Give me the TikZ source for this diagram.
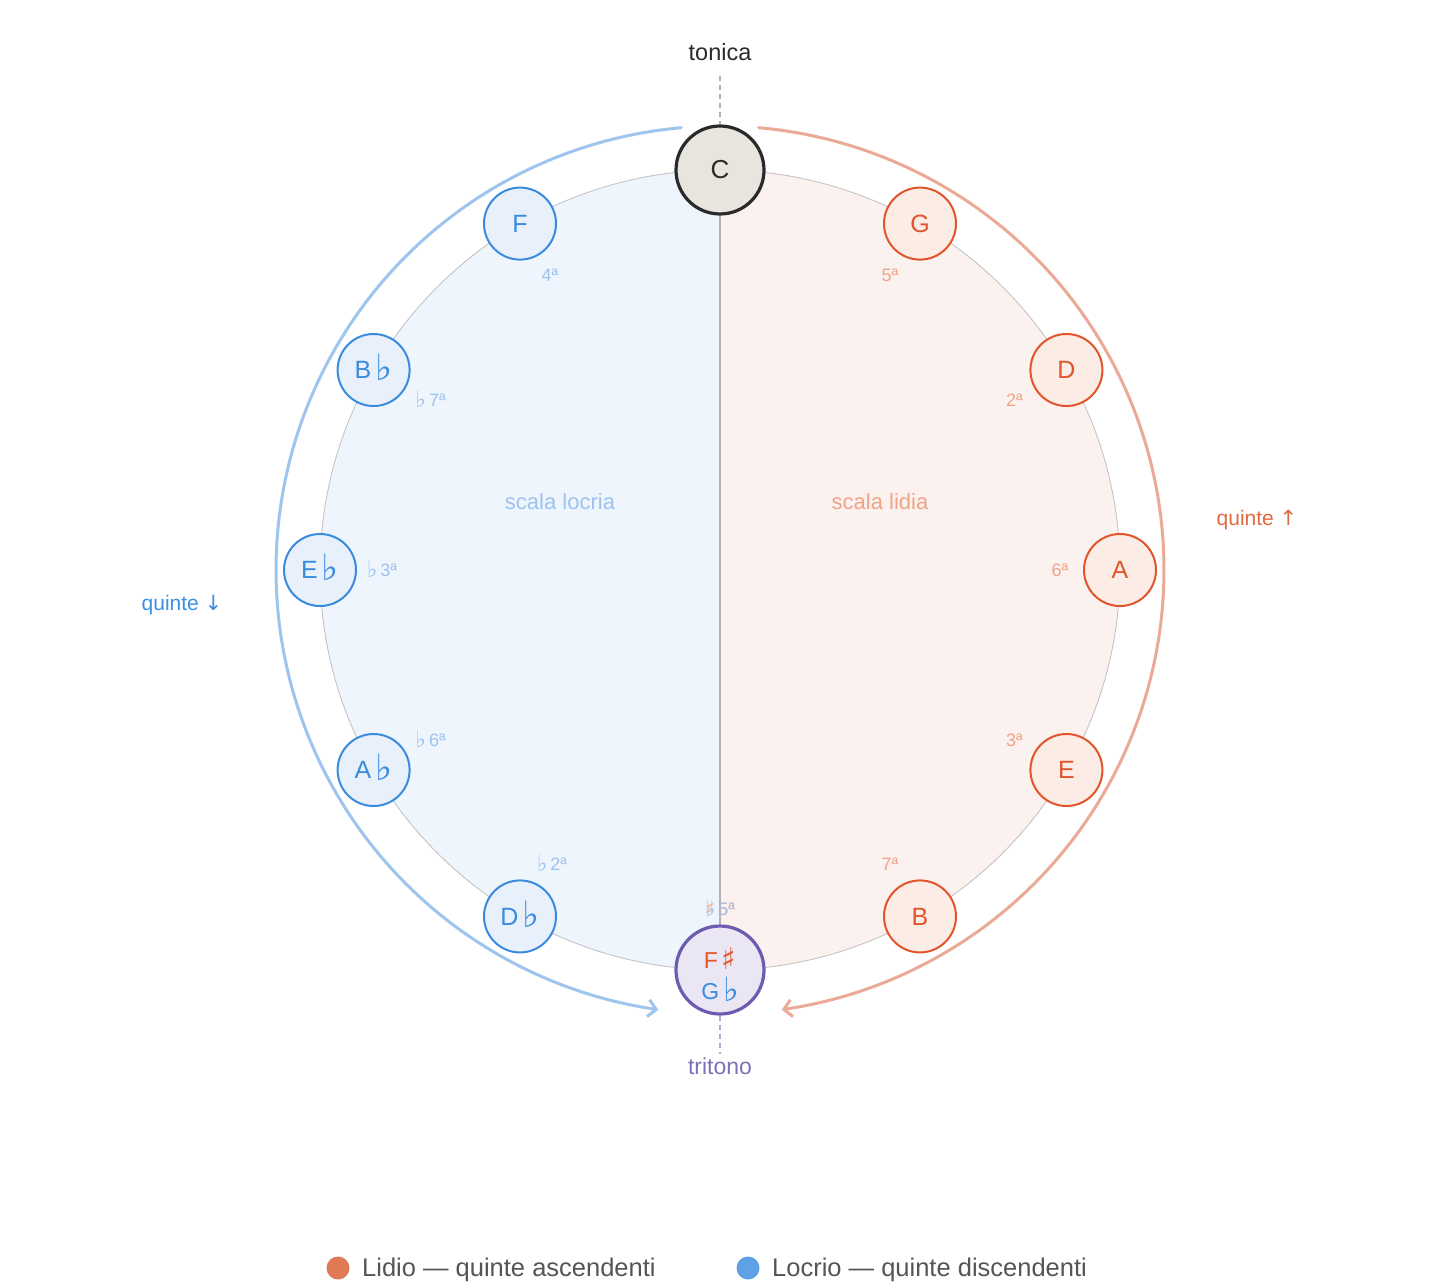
\documentclass[tikz,border=0pt]{standalone}
\usepackage{fontspec}
\setmainfont{Liberation Sans}
\newfontfamily\sym{DejaVu Sans}
\usetikzlibrary{arrows.meta}
\newcommand\myflat{\raisebox{-2pt}[0pt][0pt]{\sym\scalebox{1.45}{♭}}}
\newcommand\mysharp{\raisebox{-1pt}[0pt][0pt]{\sym\scalebox{1.3}{♯}}}
\newcommand\smflat{\raisebox{-1pt}[0pt][0pt]{\sym\scalebox{1.25}{♭}}}
\newcommand\smsharp{\raisebox{-1pt}[0pt][0pt]{\sym\scalebox{1.2}{♯}}}
\definecolor{redS}{HTML}{E0552B}
\definecolor{redF}{HTML}{FCECE6}
\definecolor{blueS}{HTML}{3A8BDD}
\definecolor{blueF}{HTML}{E8F1FB}
\definecolor{arcB}{HTML}{9DC5EE}
\definecolor{arcR}{HTML}{EBAA95}
\definecolor{halfB}{HTML}{EEF5FD}
\definecolor{halfR}{HTML}{FBF1EE}
\definecolor{degR}{HTML}{EFA488}
\definecolor{degB}{HTML}{9DC3EE}
\definecolor{qR}{HTML}{E06A40}
\definecolor{qB}{HTML}{3D8FE0}
\definecolor{purS}{HTML}{6C5BB0}
\definecolor{purT}{HTML}{8070B8}
\definecolor{purF}{HTML}{EAE6F3}
\definecolor{tonF}{HTML}{E8E5DF}
\definecolor{tonS}{HTML}{2A2A2A}
\definecolor{legR}{HTML}{E07A55}
\definecolor{legB}{HTML}{5FA0E6}
\definecolor{legT}{HTML}{555555}
\tikzset{
  note/.style={circle, minimum size=72pt, inner sep=0pt, line width=2pt, font=\fontsize{25}{25}\selectfont},
  lnote/.style={note, draw=redS, fill=redF, text=redS},
  bnote/.style={note, draw=blueS, fill=blueF, text=blueS},
  big/.style={circle, minimum size=88pt, inner sep=0pt, line width=3.2pt, font=\fontsize{26}{26}\selectfont},
  rdeg/.style={text=degR, font=\fontsize{18}{18}\selectfont, inner sep=0pt},
  bdeg/.style={text=degB, font=\fontsize{18}{18}\selectfont, inner sep=0pt},
  lab/.style={font=\fontsize{22}{22}\selectfont, inner sep=0pt},
  arcline/.style={line width=3pt, line cap=round},
}
\begin{document}
\begin{tikzpicture}[x=1pt,y=-1pt]
\useasboundingbox[fill=white] (0,0) rectangle (1440,1286);
% half discs
\fill[halfB] (720,170) -- plot[domain=0:180,samples=120] ({720-400*sin(\x)},{570-400*cos(\x)}) -- cycle;
\fill[halfR] (720,170) -- plot[domain=0:180,samples=120] ({720+400*sin(\x)},{570-400*cos(\x)}) -- cycle;
\draw[line width=0.8pt, draw=black!25] (720,570) circle[radius=400];
% nodes
\node[big, draw=tonS, fill=tonF, text=tonS] (C) at (720,170) {C};
\node[big, draw=purS, fill=purF] (Fs) at (720,970) {};
\node[font=\fontsize{23}{23}\selectfont, text=redS, inner sep=0pt, anchor=base] (FsT) at (720,968) {F\,\mysharp};
\node[font=\fontsize{23}{23}\selectfont, text=blueS, inner sep=0pt, anchor=base] (GbT) at (720,999) {G\,\myflat};
\draw[line width=1.3pt, draw=black!30] (C.south) -- (Fs.north);
\node[lnote] (G) at ({720+400*sin(30)},{570-400*cos(30)}) {G};
\node[lnote] (D) at ({720+400*sin(60)},{570-400*cos(60)}) {D};
\node[lnote] (A) at ({720+400*sin(90)},{570-400*cos(90)}) {A};
\node[lnote] (E) at ({720+400*sin(120)},{570-400*cos(120)}) {E};
\node[lnote] (B) at ({720+400*sin(150)},{570-400*cos(150)}) {B};
\node[bnote] (F) at ({720-400*sin(30)},{570-400*cos(30)}) {F};
\node[bnote] (Bb) at ({720-400*sin(60)},{570-400*cos(60)}) {B\,\myflat};
\node[bnote] (Eb) at ({720-400*sin(90)},{570-400*cos(90)}) {E\,\myflat};
\node[bnote] (Ab) at ({720-400*sin(120)},{570-400*cos(120)}) {A\,\myflat};
\node[bnote] (Db) at ({720-400*sin(150)},{570-400*cos(150)}) {D\,\myflat};
% degree labels
\node[rdeg] (dG) at ({720+340*sin(30)},{570-340*cos(30)}) {5ª};
\node[rdeg] (dD) at ({720+340*sin(60)},{570-340*cos(60)}) {2ª};
\node[rdeg] (dA) at ({720+340*sin(90)},{570-340*cos(90)}) {6ª};
\node[rdeg] (dE) at ({720+340*sin(120)},{570-340*cos(120)}) {3ª};
\node[rdeg] (dB) at ({720+340*sin(150)},{570-340*cos(150)}) {7ª};
\node[bdeg] (dF) at ({720-340*sin(30)},{570-340*cos(30)}) {4ª};
\node[bdeg] (dBb) at ({720-340*sin(60)+5},{570-340*cos(60)}) {\smflat\,7ª};
\node[bdeg] (dEb) at ({720-340*sin(90)+2},{570-340*cos(90)}) {\smflat\,3ª};
\node[bdeg] (dAb) at ({720-340*sin(120)+5},{570-340*cos(120)}) {\smflat\,6ª};
\node[bdeg] (dDb) at ({720-340*sin(150)+2},{570-340*cos(150)}) {\smflat\,2ª};
\node[rdeg, opacity=0.8] (dFs) at (720,909) {\smsharp\,5ª};
\node[bdeg, opacity=0.8] (dGb) at (720,909) {\smflat\,5ª};
% arcs
\coordinate (rS) at ({720+444*sin(5)},{570-444*cos(5)});
\coordinate (bS) at ({720-444*sin(5)},{570-444*cos(5)});
\draw[arcline, draw=arcR, -{Straight Barb[length=8pt,width=17pt,line width=3pt]}] (rS) -- plot[domain=5:172,samples=150] ({720+444*sin(\x)},{570-444*cos(\x)});
\draw[arcline, draw=arcB, -{Straight Barb[length=8pt,width=17pt,line width=3pt]}] (bS) -- plot[domain=5:172,samples=150] ({720-444*sin(\x)},{570-444*cos(\x)});
% dashed guides
\coordinate (tTop) at (720,76);
\coordinate (tBot) at (720,1054);
\draw[line width=1.3pt, draw=black!30, dash pattern=on 5pt off 4pt] (tTop) -- (C.north);
\draw[line width=1.3pt, draw=purT!60, dash pattern=on 5pt off 4pt] (Fs.south) -- (tBot);
% labels
\node[lab, text=tonS, font=\fontsize{23.5}{23.5}\selectfont] (ton) at (720,52) {tonica};
\node[lab, text=purT, font=\fontsize{23}{23}\selectfont] (tri) at (720,1066) {tritono};
\node[lab, text=degB] (loc) at (560,502) {scala locria};
\node[lab, text=degR] (lid) at (880,502) {scala lidia};
\node[lab, text=qR, font=\fontsize{21}{21}\selectfont] (qup) at (1257,520) {quinte {\sym ↑}};
\node[lab, text=qB, font=\fontsize{21}{21}\selectfont] (qdn) at (182,605) {quinte {\sym ↓}};
% legend
\fill[legR] (338,1268) circle[radius=11.5];
\fill[legB] (748,1268) circle[radius=11.5];
\node[anchor=west, text=legT, font=\fontsize{25.5}{25.5}\selectfont, inner sep=0pt] (l1) at (362,1270) {Lidio — quinte ascendenti};
\node[anchor=west, text=legT, font=\fontsize{25.5}{25.5}\selectfont, inner sep=0pt] (l2) at (772,1270) {Locrio — quinte discendenti};
\end{tikzpicture}
\end{document}
